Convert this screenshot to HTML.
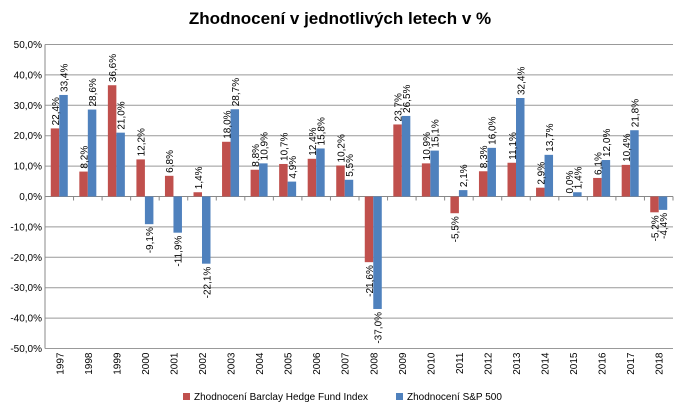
<!DOCTYPE html>
<html><head><meta charset="utf-8"><style>
body{margin:0;background:#fff;}
svg{display:block;font-family:"Liberation Sans",sans-serif;}
</style></head><body>
<svg id="c" width="680" height="409">
<text x="340" y="24" text-anchor="middle" font-size="17" font-weight="bold" fill="#000">Zhodnocení v jednotlivých letech v %</text>
<g id="grid"></g><g id="bars"></g><g id="labels"></g>
<g>
<rect x="183" y="393" width="7" height="7" fill="#c0504d"/>
<text x="194" y="400" font-size="10">Zhodnocení Barclay Hedge Fund Index</text>
<rect x="396" y="393" width="7" height="7" fill="#4f81bd"/>
<text x="407" y="400" font-size="10">Zhodnocení S&amp;P 500</text>
</g>
</svg>
<script>
const years=["1997","1998","1999","2000","2001","2002","2003","2004","2005","2006","2007","2008","2009","2010","2011","2012","2013","2014","2015","2016","2017","2018"];
const hedge=[22.4,8.2,36.6,12.2,6.8,1.4,18.0,8.8,10.7,12.4,10.2,-21.6,23.7,10.9,-5.5,8.3,11.1,2.9,0.0,6.1,10.4,-5.2];
const sp500=[33.4,28.6,21.0,-9.1,-11.9,-22.1,28.7,10.9,4.9,15.8,5.5,-37.0,26.5,15.1,2.1,16.0,32.4,13.7,1.4,12.0,21.8,-4.4];
const yTicks=[50,40,30,20,10,0,-10,-20,-30,-40,-50];
const NS="http://www.w3.org/2000/svg";
const L=45,R=673,T=44.5,B=348.5;
const y=v=>T+(50-v)/100*(B-T);
const bw=(R-L)/years.length;
const x=i=>L+i*bw;
const fmt=v=>v.toFixed(1).replace('.',',')+'%';
function mk(tag,attrs,parent){const e=document.createElementNS(NS,tag);for(const k in attrs)e.setAttribute(k,attrs[k]);parent.appendChild(e);return e;}
const grid=document.getElementById('grid'),bars=document.getElementById('bars'),labels=document.getElementById('labels');
yTicks.forEach(t=>{
 const ln=mk('line',{x1:L,x2:R,y1:y(t),y2:y(t),stroke:t===0?'#888':'#999','stroke-width':1},grid);
 
 
 const tx=mk('text',{x:L-3,y:y(t)+3.5,'text-anchor':'end','font-size':10},grid);
 tx.textContent=fmt(t);
 
 
});
const ax=mk('line',{x1:L,x2:L,y1:T,y2:B,stroke:'#888'},grid);


for(let i=0;i<=years.length;i++){
 const tk=mk('line',{x1:x(i),x2:x(i),y1:y(0),y2:y(0)+4,stroke:'#888'},grid);
 
 
}
const bwid=8.5,off=(bw-2*bwid)/2;
function bar(i,v,k,color,name){
 const bx=x(i)+off+k*bwid;
 const y0=Math.min(y(v),y(0)),h=Math.abs(y(v)-y(0));
 const r=mk('rect',{x:bx,y:y0,width:bwid,height:h,fill:color},bars);
 
 
 const cx=bx+bwid/2+4;
 let t;
 if(v>=0){t=mk('text',{x:0,y:0,'text-anchor':'start','font-size':10,transform:`translate(${cx},${y(v)-3}) rotate(-90)`},labels);}
 else{t=mk('text',{x:0,y:0,'text-anchor':'end','font-size':10,transform:`translate(${cx},${y(v)+3}) rotate(-90)`},labels);}
 t.textContent=fmt(v);
 
 
}
years.forEach((yr,i)=>{
 bar(i,hedge[i],0,'#c0504d','bar-hedge');
 bar(i,sp500[i],1,'#4f81bd','bar-sp500');
 const t=mk('text',{x:0,y:0,'text-anchor':'end','font-size':10,transform:`translate(${x(i)+bw/2+4},${B+4}) rotate(-90)`},labels);
 t.textContent=yr;
 
 
});
</script>
</body></html>
